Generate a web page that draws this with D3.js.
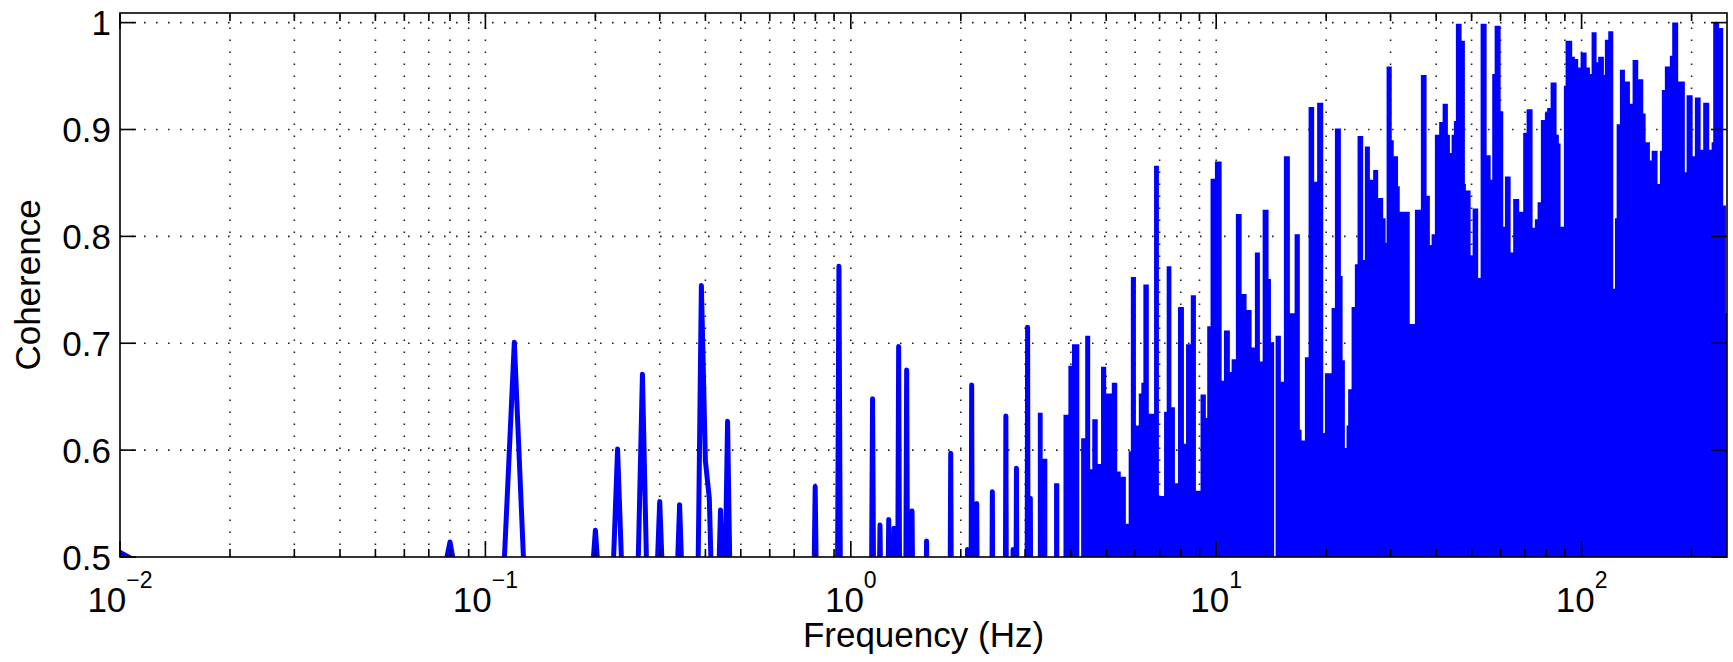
<!DOCTYPE html>
<html><head><meta charset="utf-8">
<script src="https://cdn.jsdelivr.net/npm/d3@7"></script>
<style>
body{margin:0;background:#fff}
svg{display:block}
text{font-family:"Liberation Sans",Arial,Helvetica,sans-serif;fill:#000}
</style>
</head><body>
<svg id="c" width="1733" height="662"></svg>
<script>
// ---------------- data ----------------
// Isolated low-frequency spikes: line vertices (Hz, coherence); values < 0.5 fall below the axis
const sparseFreq = [0.0098,0.0195,
  0.0703,0.0800,0.0898, 0.1100,0.1200,0.1300, 0.1900,0.2000,0.2100, 0.2200,0.2300,0.2400,
  0.2590,0.2690,0.2790, 0.2900,0.3000,0.3100, 0.3300,0.3400,0.3500,
  0.3800,0.3900,0.4000,0.4100,0.4200, 0.4300,0.4400,0.4500,0.4600,0.4700,
  0.7890,0.7990,0.8090, 0.9180,0.9280,0.9380, 1.137,1.147,1.157, 1.192,1.202,1.212,
  1.260,1.270,1.280, 1.303,1.313,1.323, 1.342,1.352,1.362, 1.412,1.422,1.432,
  1.461,1.471,1.481, 1.602,1.612,1.622, 1.867,1.877,1.887, 2.076,2.086,2.096,
  2.132,2.142,2.152, 2.201,2.211,2.221, 2.430,2.440,2.450, 2.647,2.657,2.667,
  2.771,2.781,2.791, 2.830,2.840,2.850, 3.037,3.047,3.057, 3.090,3.100,3.110];
const sparseCoh = [0.506,0.45,
  0.42,0.514,0.42, 0.42,0.701,0.42, 0.42,0.525,0.42, 0.42,0.601,0.42,
  0.42,0.671,0.42, 0.42,0.552,0.42, 0.42,0.549,0.42,
  0.42,0.754,0.590,0.555,0.42, 0.42,0.544,0.42,0.627,0.42,
  0.42,0.566,0.42, 0.42,0.772,0.42, 0.42,0.648,0.42, 0.42,0.530,0.42,
  0.42,0.535,0.42, 0.42,0.527,0.42, 0.42,0.697,0.42, 0.42,0.675,0.42,
  0.42,0.543,0.42, 0.42,0.515,0.42, 0.42,0.597,0.42, 0.42,0.507,0.42,
  0.42,0.661,0.42, 0.42,0.550,0.42, 0.42,0.561,0.42, 0.42,0.632,0.42,
  0.42,0.507,0.42, 0.42,0.583,0.42, 0.42,0.715,0.42, 0.42,0.555,0.42];

// Dense band above ~3 Hz: local maxima of the oscillating coherence, as plateaus
// denseEdges[i]..denseEdges[i+1] (Hz) has local maximum denseCoh[i]
const denseEdges = [3.25,3.35,3.45,3.60,3.72,3.82,3.94,4.03,4.22,4.27,4.38,4.52,4.58,4.74,4.84,
  5.00,5.18,5.36,5.48,5.66,5.76,5.84,6.03,6.14,6.24,6.32,6.54,6.76,6.97,7.20,7.32,7.54,7.71,7.86,
  8.16,8.27,8.52,8.80,9.06,9.37,9.45,9.65,9.92,10.35,10.50,10.90,11.02,11.32,11.74,12.11,12.50,
  12.76,13.17,13.40,13.91,14.12,14.41,14.54,15.03,15.32,15.91,16.39,16.94,17.13,17.49,17.90,18.54,
  18.89,19.63,19.84,20.69,21.13,21.94,22.18,22.50,22.74,22.97,23.47,23.96,24.37,25.25,25.52,26.34,
  26.89,27.75,28.64,29.08,29.26,30.23,30.61,31.45,31.79,33.86,34.98,36.32,37.65,38.44,38.86,39.67,
  40.76,41.65,43.06,43.61,44.08,44.72,45.29,46.95,47.93,48.24,49.69,50.32,52.12,52.92,54.97,56.37,
  56.94,57.81,60.04,61.03,61.69,63.94,64.98,67.49,69.21,70.71,73.43,74.51,75.78,77.37,79.35,80.51,
  82.25,85.41,86.66,87.59,89.43,90.40,94.25,95.87,97.88,99.37,103.2,105.4,106.5,109.9,111.0,115.1,
  115.8,118.3,122.1,123.4,124.7,127.3,131.4,135.6,137.9,142.9,147.5,149.7,153.8,155.5,161.4,163.8,
  165.8,169.0,174.4,177.0,183.8,191.7,193.8,201.3,204.2,211.7,215.2,223.5,226.9,229.2,238.0,244.1,
  248.3,250.0];
const denseCoh = [0.635,0.592,0.45,0.569,0.45,0.633,0.679,0.699,0.45,0.611,0.707,0.582,0.629,0.587,0.678,
  0.653,0.663,0.580,0.575,0.531,0.599,0.762,0.623,0.653,0.663,0.755,0.634,0.866,0.557,0.636,0.772,0.640,0.569,0.734,
  0.606,0.699,0.745,0.562,0.652,0.630,0.716,0.854,0.870,0.665,0.712,0.673,0.685,0.821,0.746,0.731,0.696,
  0.785,0.683,0.825,0.760,0.701,0.45,0.707,0.664,0.875,0.728,0.802,0.619,0.609,0.687,0.921,0.851,
  0.925,0.616,0.672,0.733,0.901,0.763,0.684,0.602,0.623,0.657,0.734,0.774,0.894,0.778,0.884,0.853,
  0.862,0.836,0.817,0.794,0.959,0.890,0.875,0.847,0.823,0.718,0.825,0.951,0.838,0.792,0.802,0.895,
  0.907,0.924,0.895,0.878,0.895,0.908,0.999,0.983,0.849,0.843,0.782,0.826,0.761,0.999,0.876,0.853,
  0.952,0.997,0.917,0.809,0.856,0.785,0.835,0.823,0.897,0.919,0.808,0.816,0.832,0.909,0.916,0.920,
  0.944,0.895,0.887,0.809,0.941,0.983,0.968,0.966,0.958,0.972,0.958,0.952,0.991,0.963,0.968,0.951,
  0.984,0.992,0.751,0.817,0.905,0.956,0.945,0.924,0.965,0.947,0.915,0.888,0.871,0.880,0.849,0.880,
  0.937,0.959,0.969,1.000,0.945,0.860,0.932,0.875,0.930,0.881,0.925,0.881,0.888,1.000,0.995,0.829,
  0.728];

const xDomain = [0.01, 250];
const yDomain = [0.5, 1.009];
const xTickExponents = [-2, -1, 0, 1, 2];
const yTickValues = [0.5, 0.6, 0.7, 0.8, 0.9, 1];
const yTickLabels = ["0.5", "0.6", "0.7", "0.8", "0.9", "1"];
const xTitle = "Frequency (Hz)";
const yTitle = "Coherence";

// ---------------- layout ----------------
const L = 120, R = 1727, T = 13, B = 557;
const blue = "#0000ff";
const svg = d3.select("#c");
const x = d3.scaleLog().domain(xDomain).range([L, R]);
const y = d3.scaleLinear().domain(yDomain).range([B, T]);

svg.append("defs").append("clipPath").attr("id", "clip")
  .append("rect").attr("x", L).attr("y", T).attr("width", R - L).attr("height", B - T);

// grid (dotted)
const grid = svg.append("g").attr("stroke", "#222").attr("stroke-width", 1.6)
  .attr("stroke-dasharray", "1.6 10.4");
x.ticks().filter(t => t > xDomain[0] * 1.001).forEach(t => {
  grid.append("line").attr("x1", x(t)).attr("x2", x(t)).attr("y1", B).attr("y2", T);
});
yTickValues.filter(t => t > yDomain[0]).forEach(t => {
  grid.append("line").attr("x1", L).attr("x2", R).attr("y1", y(t)).attr("y2", y(t));
});

// data
const plot = svg.append("g").attr("clip-path", "url(#clip)");
const denseData = denseEdges.map((f, i) => [f, denseCoh[Math.min(i, denseCoh.length - 1)]]);
plot.append("path").datum(denseData)
  .attr("d", d3.area().curve(d3.curveStepAfter)
    .x(d => x(d[0])).y0(B + 20).y1(d => y(d[1])))
  .attr("fill", blue);
const sparseData = sparseFreq.map((f, i) => [f, sparseCoh[i]]);
plot.append("path").datum(sparseData)
  .attr("d", d3.line().x(d => x(d[0])).y(d => y(d[1])))
  .attr("fill", "none").attr("stroke", blue).attr("stroke-width", 5)
  .attr("stroke-linejoin", "round").attr("stroke-linecap", "round");

// axes box and ticks
const ax = svg.append("g").attr("stroke", "#000").attr("stroke-width", 1.6);
ax.append("rect").attr("x", L).attr("y", T).attr("width", R - L).attr("height", B - T).attr("fill", "none");
const majors = xTickExponents.map(e => Math.pow(10, e));
x.ticks().forEach(t => {
  const isMajor = majors.some(m => Math.abs(m - t) / m < 1e-6);
  const len = isMajor ? 16 : 8;
  ax.append("line").attr("x1", x(t)).attr("x2", x(t)).attr("y1", B).attr("y2", B - len);
  ax.append("line").attr("x1", x(t)).attr("x2", x(t)).attr("y1", T).attr("y2", T + len);
});
yTickValues.forEach(t => {
  ax.append("line").attr("x1", L).attr("x2", L + 16).attr("y1", y(t)).attr("y2", y(t));
  ax.append("line").attr("x1", R).attr("x2", R - 16).attr("y1", y(t)).attr("y2", y(t));
});

// tick labels
yTickValues.forEach((t, i) => {
  svg.append("text").attr("x", 111).attr("y", y(t) + 12.5)
    .attr("text-anchor", "end").attr("font-size", 35).text(yTickLabels[i]);
});
xTickExponents.forEach(e => {
  const t = svg.append("text").attr("x", x(Math.pow(10, e))).attr("y", 611.5)
    .attr("text-anchor", "middle").attr("font-size", 35);
  t.append("tspan").text("10");
  t.append("tspan").attr("dy", -23.5).attr("font-size", 23)
    .text(e < 0 ? "\u2212" + Math.abs(e) : String(e));
});

// axis titles
svg.append("text").attr("x", (L + R) / 2).attr("y", 647)
  .attr("text-anchor", "middle").attr("font-size", 35).text(xTitle);
svg.append("text").attr("transform", `translate(40,${(T + B) / 2}) rotate(-90)`)
  .attr("text-anchor", "middle").attr("font-size", 35).text(yTitle);
</script>
</body></html>
